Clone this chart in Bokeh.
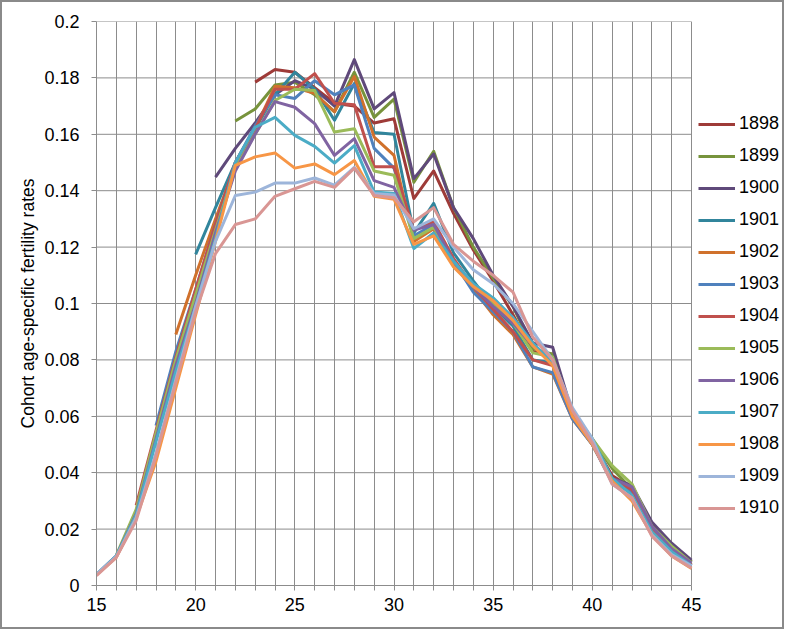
from bokeh.plotting import figure
from bokeh.models import (Range1d, FixedTicker, NumeralTickFormatter, Legend,
                          LegendItem)
from bokeh.embed import file_html
from bokeh.resources import INLINE

# Cohort age-specific fertility rates, by birth cohort, ages 15-45
ages = list(range(15, 46))
cohorts = ["1898", "1899", "1900", "1901", "1902", "1903", "1904",
           "1905", "1906", "1907", "1908", "1909", "1910"]
first_age = [23, 22, 21, 20, 19, 18, 17, 16, 15, 15, 15, 15, 15]

r1898 = [.1785, .1830, .1820, .1765, .1710, .1700, .1640, .1655, .1372, .1470,
         .1320, .1190, .1080, .0960, .0830, .0820, .0600, .0510, .0390, .0345,
         .0220, .0140, .0085]
r1899 = [.1647, .1690, .1775, .1785, .1740, .1680, .1820, .1660, .1725, .1430,
         .1540, .1340, .1200, .1090, .0990, .0840, .0820, .0600, .0520, .0415,
         .0340, .0210, .0140, .0085]
r1900 = [.1448, .1550, .1640, .1740, .1790, .1760, .1700, .1865, .1690, .1748,
         .1443, .1530, .1340, .1230, .1100, .0990, .0860, .0845, .0610, .0510,
         .0380, .0355, .0225, .0150, .0090]
r1901 = [.1174, .1340, .1500, .1620, .1740, .1820, .1760, .1650, .1780, .1606,
         .1600, .1250, .1355, .1180, .1080, .0990, .0920, .0800, .0790, .0600,
         .0500, .0370, .0340, .0200, .0120, .0075]
r1902 = [.0890, .1100, .1300, .1490, .1620, .1770, .1765, .1745, .1680, .1805,
         .1590, .1525, .1220, .1265, .1140, .1050, .0960, .0890, .0775, .0750,
         .0590, .0500, .0370, .0330, .0190, .0115, .0070]
r1903 = [.0567, .0830, .1050, .1280, .1500, .1630, .1740, .1727, .1790, .1740,
         .1775, .1550, .1480, .1240, .1280, .1150, .1040, .0970, .0900, .0775,
         .0755, .0590, .0500, .0365, .0330, .0190, .0115, .0070]
r1904 = [.0284, .0550, .0810, .1050, .1280, .1500, .1620, .1760, .1760, .1815,
         .1710, .1705, .1485, .1485, .1260, .1290, .1160, .1060, .0980, .0900,
         .0800, .0780, .0600, .0505, .0375, .0340, .0200, .0125, .0075]
r1905 = [.0108, .0270, .0540, .0800, .1030, .1260, .1480, .1600, .1720, .1760,
         .1755, .1608, .1620, .1470, .1455, .1230, .1270, .1150, .1060, .1000,
         .0930, .0825, .0810, .0610, .0520, .0425, .0360, .0210, .0140, .0080]
r1906 = [.0040, .0105, .0255, .0520, .0780, .1000, .1250, .1470, .1600, .1716,
         .1696, .1638, .1525, .1585, .1436, .1412, .1260, .1280, .1150, .1060,
         .0990, .0930, .0850, .0800, .0610, .0510, .0380, .0350, .0210, .0130,
         .0080]
r1907 = [.0040, .0105, .0250, .0510, .0760, .0990, .1230, .1500, .1625, .1660,
         .1596, .1557, .1498, .1560, .1395, .1390, .1195, .1250, .1150, .1070,
         .1020, .0950, .0860, .0790, .0620, .0520, .0380, .0320, .0190, .0120,
         .0070]
r1908 = [.0038, .0100, .0240, .0440, .0700, .0960, .1220, .1490, .1520, .1534,
         .1480, .1495, .1457, .1507, .1380, .1370, .1210, .1240, .1130, .1060,
         .1010, .0940, .0850, .0780, .0600, .0500, .0370, .0300, .0180, .0105,
         .0060]
r1909 = [.0040, .0102, .0240, .0470, .0730, .0990, .1220, .1383, .1395, .1427,
         .1427, .1445, .1420, .1483, .1390, .1385, .1265, .1300, .1200, .1120,
         .1070, .1000, .0900, .0800, .0630, .0520, .0360, .0310, .0180, .0110,
         .0070]
r1910 = [.0035, .0100, .0230, .0460, .0720, .0970, .1177, .1280, .1300, .1380,
         .1407, .1433, .1412, .1480, .1383, .1375, .1290, .1340, .1210, .1150,
         .1100, .1040, .0880, .0800, .0620, .0505, .0360, .0310, .0175, .0105,
         .0062]

rates = [r1898, r1899, r1900, r1901, r1902, r1903, r1904,
         r1905, r1906, r1907, r1908, r1909, r1910]

colors = ["#9E3B38", "#77933C", "#5F497A", "#31859C", "#D0712C", "#4F81BD",
          "#C0504D", "#9BBB59", "#8064A2", "#4BACC6", "#F79646", "#9DB5DA",
          "#D99694"]

y_ticks = [0, 0.02, 0.04, 0.06, 0.08, 0.1, 0.12, 0.14, 0.16, 0.18, 0.2]

FONT = "Liberation Sans"
GRID = "#8C8C8C"
AGE_MIN, AGE_MAX = 15, 45

# The frame runs on past age 45 so the legend has room to the right of the
# gridded area; the axis and the gridlines stop at 45.
px_per_year = 595 / (AGE_MAX - AGE_MIN)
x_end = AGE_MIN + 690 / px_per_year

p = figure(width=784, height=629, output_backend="svg", toolbar_location=None,
           x_range=Range1d(AGE_MIN, x_end), y_range=Range1d(0, 0.2),
           min_border_left=94, min_border_right=0, min_border_top=19,
           min_border_bottom=46)
p.styles = {"border": "2px solid #8A8A8A"}
p.background_fill_color = "white"
p.border_fill_color = "white"
p.outline_line_color = None

# axes
p.xaxis.ticker = FixedTicker(ticks=ages)
p.xaxis.bounds = (AGE_MIN, AGE_MAX)
p.xaxis.major_label_overrides = {a: (str(a) if a % 5 == 0 else "") for a in ages}
p.yaxis.ticker = FixedTicker(ticks=y_ticks)
p.yaxis.formatter = NumeralTickFormatter(format="0.[00]")
for ax in (p.xaxis[0], p.yaxis[0]):
    ax.axis_line_color = GRID
    ax.major_tick_line_color = GRID
    ax.major_tick_out = 5
    ax.major_tick_in = 0
    ax.minor_tick_line_color = None
    ax.major_label_text_font = FONT
    ax.major_label_text_font_size = "18px"
    ax.major_label_text_color = "#000000"
p.xaxis.major_label_standoff = 7
p.yaxis.major_label_standoff = 12
p.yaxis.axis_label = "Cohort age-specific fertility rates"
p.yaxis.axis_label_text_font = FONT
p.yaxis.axis_label_text_font_size = "17.5px"
p.yaxis.axis_label_text_font_style = "normal"
p.yaxis.axis_label_text_color = "#000000"
p.yaxis.axis_label_standoff = 3

# gridlines: vertical at every year, horizontal only across ages 15-45
p.xgrid.ticker = FixedTicker(ticks=ages)
p.xgrid.grid_line_color = GRID
p.ygrid.grid_line_color = None
p.segment(x0=[AGE_MIN] * len(y_ticks), y0=y_ticks,
          x1=[AGE_MAX] * len(y_ticks), y1=y_ticks,
          line_color=GRID, line_width=1)

items = []
for name, start, vals, col in zip(cohorts, first_age, rates, colors):
    xs = list(range(start, start + len(vals)))
    r = p.line(xs, vals, line_color=col, line_width=3, line_join="round")
    items.append(LegendItem(label=name, renderers=[r]))

legend = Legend(items=items, location=(602, 67), orientation="vertical",
                glyph_width=37, glyph_height=20, label_height=20,
                label_standoff=4, spacing=11, padding=0, margin=0,
                border_line_color=None, background_fill_alpha=0,
                label_text_font=FONT, label_text_font_size="18px",
                label_text_color="#000000")
p.add_layout(legend, "center")

open("out.html", "w").write(file_html(p, INLINE))
